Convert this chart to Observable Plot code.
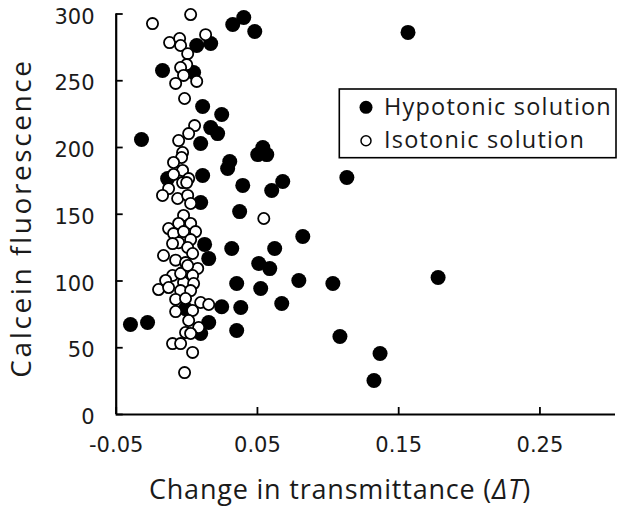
<!DOCTYPE html>
<html><head><meta charset="utf-8">
<script src="https://cdn.jsdelivr.net/npm/d3@7"></script>
<script src="https://cdn.jsdelivr.net/npm/@observablehq/plot@0.6"></script>
<style>body{margin:0;background:#fff} #chart{position:relative;width:634px;height:513px}</style>
</head><body><div id="chart"></div>
<script>
const seriesNames = ["Hypotonic solution", "Isotonic solution"];
const xTitle = "Change in transmittance";
const xTitleSymbol = "ΔT";
const yTitle = "Calcein fluorescence";
const xTicks = [-0.05, 0.05, 0.15, 0.25];
const xTickLabels = ["-0.05", "0.05", "0.15", "0.25"];
const yTicks = [0, 50, 100, 150, 200, 250, 300];

// Hypotonic solution (filled)
const hypoX = [0.0325,0.0403,0.0481,0.1566,0.0070,0.0169,-0.0172,0.0048,0.0112,0.0247,0.0169,0.0218,0.0098,-0.0321,0.0304,0.0289,0.0538,0.0502,0.0566,0.0112,-0.0136,0.0396,0.0601,0.0679,0.1133,0.0098,0.0374,0.0821,0.0622,0.0509,0.0587,0.0793,0.1034,0.0353,0.0523,0.0382,0.0672,0.0353,0.1084,0.1368,0.1325,0.1779,0.0126,0.0155,0.0318,0.0247,-0.0009,-0.0399,-0.0278,0.0155,0.0098];
const hypoY = [292.1,297.4,286.9,286.2,276.4,277.9,257.7,256.2,230.7,224.7,214.9,210.4,203.0,206.0,189.5,184.3,200.0,194.7,194.7,179.0,176.7,171.6,167.8,174.5,177.5,158.8,152.0,133.3,124.3,113.1,109.3,100.4,98.1,98.1,94.4,80.1,83.1,62.9,58.4,45.7,25.5,102.6,127.4,116.8,124.3,80.7,79.2,67.4,68.9,68.9,60.7];

// Isotonic solution (open)
const isoX = [-0.0243,0.0027,-0.0122,-0.0051,-0.0044,0.0133,0.0006,-0.0001,-0.0044,-0.0023,-0.0079,0.0070,-0.0016,0.0055,0.0013,-0.0058,-0.0030,-0.0037,-0.0094,-0.0030,-0.0094,0.0013,-0.0030,-0.0001,-0.0129,-0.0172,-0.0065,0.0006,0.0027,-0.0023,-0.0058,0.0027,-0.0129,-0.0094,-0.0023,0.0062,0.0027,-0.0058,-0.0101,0.0006,-0.0165,0.0041,-0.0079,-0.0009,0.0077,-0.0030,-0.0101,0.0041,-0.0150,-0.0023,0.0048,-0.0200,-0.0129,-0.0044,0.0027,-0.0079,-0.0009,0.0098,0.0155,-0.0079,0.0041,0.0013,0.0084,-0.0009,0.0027,-0.0101,-0.0044,0.0041,-0.0016,0.0545,-0.0044,0.0006];
const isoY = [292.8,299.6,278.6,281.6,276.4,284.5,270.3,262.1,259.9,254.0,248.0,249.5,236.7,216.4,210.4,205.2,196.2,192.5,188.8,182.8,179.8,176.7,173.7,173.7,169.2,164.1,161.8,164.1,158.1,149.1,143.1,143.1,139.3,135.5,137.0,137.0,131.0,128.7,128.0,125.1,119.1,120.6,115.6,113.8,109.4,106.4,104.1,104.1,100.4,98.9,98.1,93.6,95.1,92.8,92.8,86.2,86.9,83.9,82.4,77.1,77.9,70.4,65.2,61.4,60.7,53.1,53.1,46.5,31.4,146.8,105.6,111.6];

const hypo = hypoX.map((x, i) => ({x, y: hypoY[i]}));
const iso = isoX.map((x, i) => ({x, y: isoY[i]}));

const font = "'Open Sans', sans-serif";
const tickFont = "'DejaVu Sans', sans-serif";
const ink = "#1a1a1a";

const plot = Plot.plot({
  width: 634, height: 513,
  marginLeft: 115.7, marginRight: 19, marginTop: 13.5, marginBottom: 99,
  x: {domain: [-0.05, 0.3035], label: null},
  y: {domain: [0, 300], label: null},
  style: {fontFamily: font, color: ink, background: "#fff", overflow: "visible"},
  marks: [
    Plot.axisX({ticks: xTicks, tickSize: -7, tickFormat: () => "", stroke: "#000", strokeWidth: 1.8, label: null}),
    Plot.axisX({ticks: xTicks, tickSize: 0, tickPadding: 23, tickFormat: (d, i) => xTickLabels[i], fontSize: 21, fontFamily: tickFont, fill: ink, label: null}),
    Plot.axisY({ticks: yTicks, tickSize: -7, tickFormat: () => "", stroke: "#000", strokeWidth: 1.8, label: null}),
    Plot.axisY({ticks: yTicks, tickSize: 0, tickPadding: 21.7, dy: 3, fontSize: 21, fontFamily: tickFont, fill: ink, label: null}),
    Plot.ruleY([0], {stroke: "#000", strokeWidth: 2.2}),
    Plot.ruleX([-0.05], {stroke: "#000", strokeWidth: 2.2}),
    Plot.dot(hypo, {x: "x", y: "y", r: 7.5, fill: "#000", stroke: null}),
    Plot.dot(iso, {x: "x", y: "y", r: 5.6, fill: "#fff", stroke: "#000", strokeWidth: 1.8})
  ]
});
document.getElementById("chart").appendChild(plot);

const svg = d3.select(plot);
// Axis titles
const xt = svg.append("text").attr("x", 340).attr("y", 499).attr("text-anchor", "middle")
  .attr("font-family", font).attr("font-size", 27).attr("letter-spacing", 0.8).attr("fill", ink);
xt.append("tspan").text(xTitle + " (");
xt.append("tspan").attr("font-style", "italic").text(xTitleSymbol);
xt.append("tspan").text(")");
svg.append("text").attr("transform", "translate(31,218) rotate(-90)").attr("text-anchor", "middle")
  .attr("font-family", font).attr("font-size", 28).attr("letter-spacing", 2.6).attr("fill", ink).text(yTitle);

// Legend
const lg = svg.append("g");
lg.append("rect").attr("x", 339.3).attr("y", 89).attr("width", 276.7).attr("height", 68.7)
  .attr("fill", "#fff").attr("stroke", "#000").attr("stroke-width", 1.6);
lg.append("circle").attr("cx", 366).attr("cy", 107.3).attr("r", 6.5).attr("fill", "#000");
lg.append("circle").attr("cx", 366).attr("cy", 140.7).attr("r", 5).attr("fill", "#fff").attr("stroke", "#000").attr("stroke-width", 1.5);
seriesNames.forEach((name, i) => {
  lg.append("text").attr("x", 384).attr("y", i === 0 ? 115 : 147.7).attr("text-anchor", "start")
    .attr("font-family", font).attr("font-size", 23.5).attr("letter-spacing", 1.2).attr("fill", ink).text(name);
});
</script>
</body></html>
